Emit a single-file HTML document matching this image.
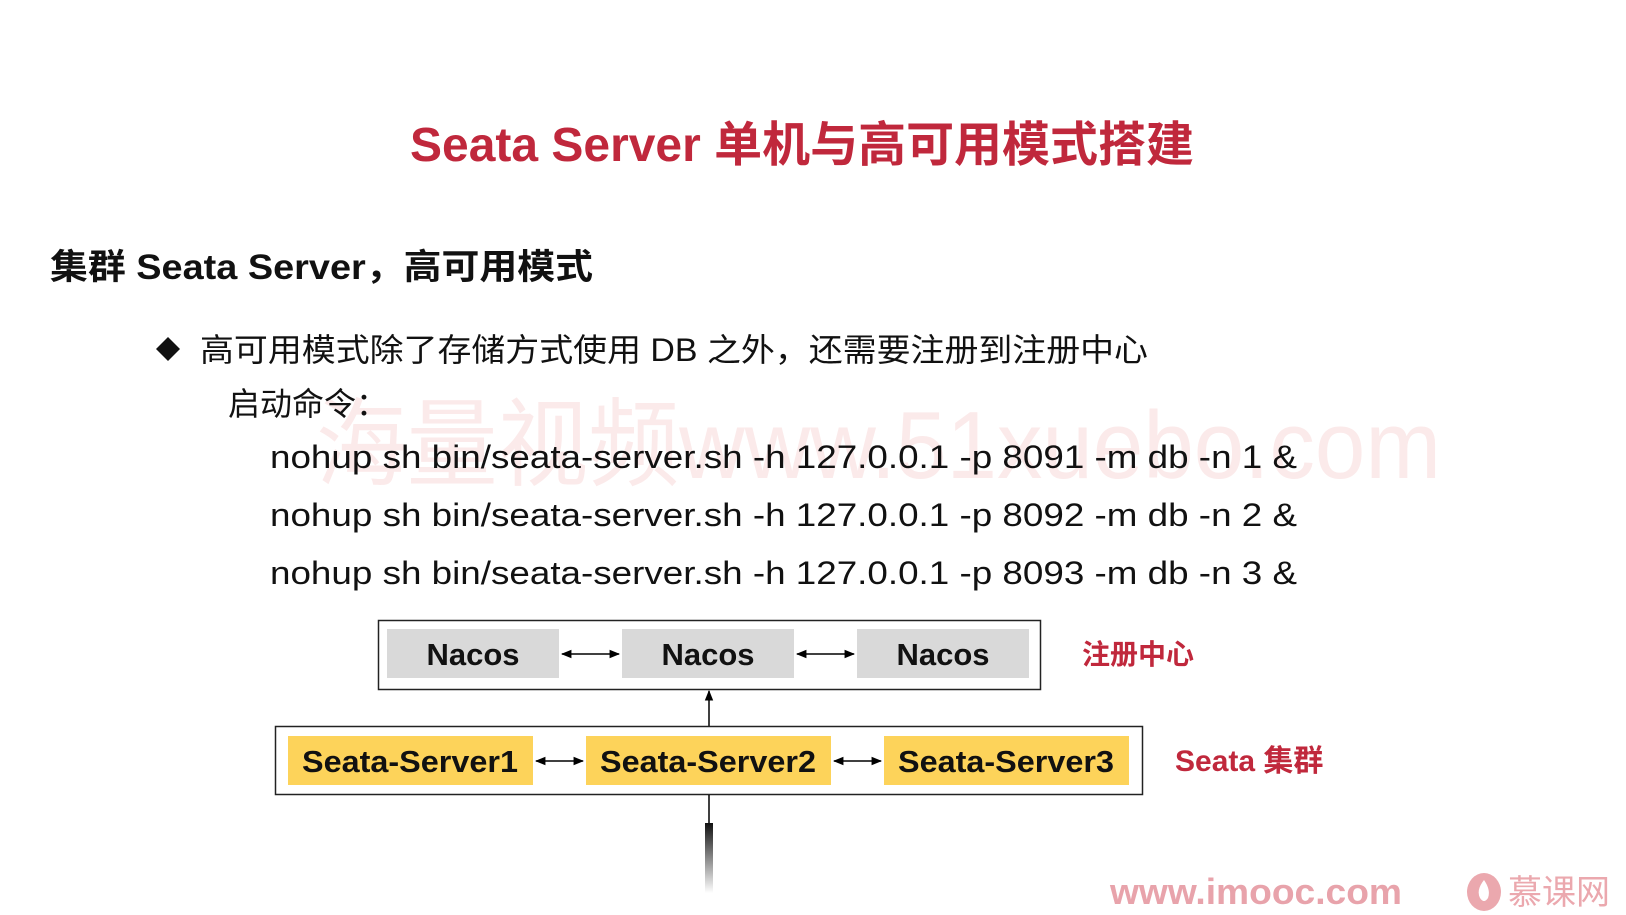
<!DOCTYPE html>
<html><head><meta charset="utf-8"><style>
html,body{margin:0;padding:0;background:#fff;}
svg{display:block;}
text{font-family:"Liberation Sans","Noto Sans CJK SC",sans-serif;}
</style></head><body>
<svg width="1626" height="915" viewBox="0 0 1626 915" xmlns="http://www.w3.org/2000/svg">
<defs>
<marker id="ah" viewBox="0 0 10 10" refX="9" refY="5" markerWidth="7" markerHeight="7" orient="auto-start-reverse"><path d="M0,1 L10,5 L0,9 z" fill="#000"/></marker>
<linearGradient id="fade" x1="0" y1="0" x2="0" y2="1"><stop offset="0" stop-color="#111"/><stop offset="1" stop-color="#111" stop-opacity="0"/></linearGradient>
</defs>
<rect width="1626" height="915" fill="#fff"/>
<text x="316" y="478" font-size="96" fill="#fbeaea" textLength="1125" lengthAdjust="spacingAndGlyphs">海量视频www.51xuebo.com</text>
<text x="802" y="161" font-size="48" font-weight="bold" fill="#c0283c" text-anchor="middle" textLength="784" lengthAdjust="spacingAndGlyphs">Seata Server 单机与高可用模式搭建</text>
<text x="50" y="279" font-size="35" font-weight="bold" fill="#111" textLength="543" lengthAdjust="spacingAndGlyphs">集群 Seata Server，高可用模式</text>
<path d="M156,349 L168,337 L180,349 L168,361 z" fill="#111"/>
<text x="200" y="361" font-size="32" fill="#111" textLength="948" lengthAdjust="spacingAndGlyphs">高可用模式除了存储方式使用 DB 之外，还需要注册到注册中心</text>
<text x="228" y="415" font-size="32" fill="#111">启动命令：</text>
<text x="270" y="468" font-size="32" fill="#111" textLength="1027" lengthAdjust="spacingAndGlyphs">nohup sh bin/seata-server.sh -h 127.0.0.1 -p 8091 -m db -n 1 &amp;</text>
<text x="270" y="526" font-size="32" fill="#111" textLength="1027" lengthAdjust="spacingAndGlyphs">nohup sh bin/seata-server.sh -h 127.0.0.1 -p 8092 -m db -n 2 &amp;</text>
<text x="270" y="584" font-size="32" fill="#111" textLength="1027" lengthAdjust="spacingAndGlyphs">nohup sh bin/seata-server.sh -h 127.0.0.1 -p 8093 -m db -n 3 &amp;</text>

<rect x="378.5" y="620.5" width="662" height="69" fill="#fff" stroke="#222" stroke-width="1.5"/>
<rect x="387" y="629" width="172" height="49" fill="#d9d9d9"/>
<rect x="622" y="629" width="172" height="49" fill="#d9d9d9"/>
<rect x="857" y="629" width="172" height="49" fill="#d9d9d9"/>
<text x="473" y="665" font-size="31" font-weight="bold" fill="#111" text-anchor="middle">Nacos</text>
<text x="708" y="665" font-size="31" font-weight="bold" fill="#111" text-anchor="middle">Nacos</text>
<text x="943" y="665" font-size="31" font-weight="bold" fill="#111" text-anchor="middle">Nacos</text>
<line x1="562" y1="654" x2="619" y2="654" stroke="#000" stroke-width="1.5" marker-start="url(#ah)" marker-end="url(#ah)"/>
<line x1="797" y1="654" x2="854" y2="654" stroke="#000" stroke-width="1.5" marker-start="url(#ah)" marker-end="url(#ah)"/>
<text x="1082" y="664" font-size="28" font-weight="bold" fill="#c0283c">注册中心</text>

<line x1="709" y1="726" x2="709" y2="691" stroke="#000" stroke-width="1.5" marker-end="url(#ah)"/>

<rect x="275.5" y="726.5" width="867" height="68" fill="#fff" stroke="#222" stroke-width="1.5"/>
<rect x="288" y="736" width="245" height="49" fill="#fdd35a"/>
<rect x="586" y="736" width="245" height="49" fill="#fdd35a"/>
<rect x="884" y="736" width="245" height="49" fill="#fdd35a"/>
<text x="410" y="772" font-size="31" font-weight="bold" fill="#111" text-anchor="middle" textLength="216" lengthAdjust="spacingAndGlyphs">Seata-Server1</text>
<text x="708" y="772" font-size="31" font-weight="bold" fill="#111" text-anchor="middle" textLength="216" lengthAdjust="spacingAndGlyphs">Seata-Server2</text>
<text x="1006" y="772" font-size="31" font-weight="bold" fill="#111" text-anchor="middle" textLength="216" lengthAdjust="spacingAndGlyphs">Seata-Server3</text>
<line x1="536" y1="761" x2="583" y2="761" stroke="#000" stroke-width="1.5" marker-start="url(#ah)" marker-end="url(#ah)"/>
<line x1="834" y1="761" x2="881" y2="761" stroke="#000" stroke-width="1.5" marker-start="url(#ah)" marker-end="url(#ah)"/>
<text x="1175" y="771" font-size="30" font-weight="bold" fill="#c0283c">Seata 集群</text>

<line x1="709" y1="795" x2="709" y2="825" stroke="#000" stroke-width="1.5"/>
<rect x="705" y="823" width="8" height="70" fill="url(#fade)"/>

<text x="1110" y="904" font-size="36" font-weight="bold" fill="#e8a3ab" textLength="292" lengthAdjust="spacingAndGlyphs">www.imooc.com</text>
<ellipse cx="1484" cy="892" rx="17" ry="19" fill="#eba8ae"/>
<path d="M1484,880 q-8,10 -4,18 q4,6 8,0 q3,-8 -4,-18z" fill="#fff"/>
<text x="1508" y="904" font-size="34" fill="#eba8ae">慕课网</text>
</svg>
</body></html>
